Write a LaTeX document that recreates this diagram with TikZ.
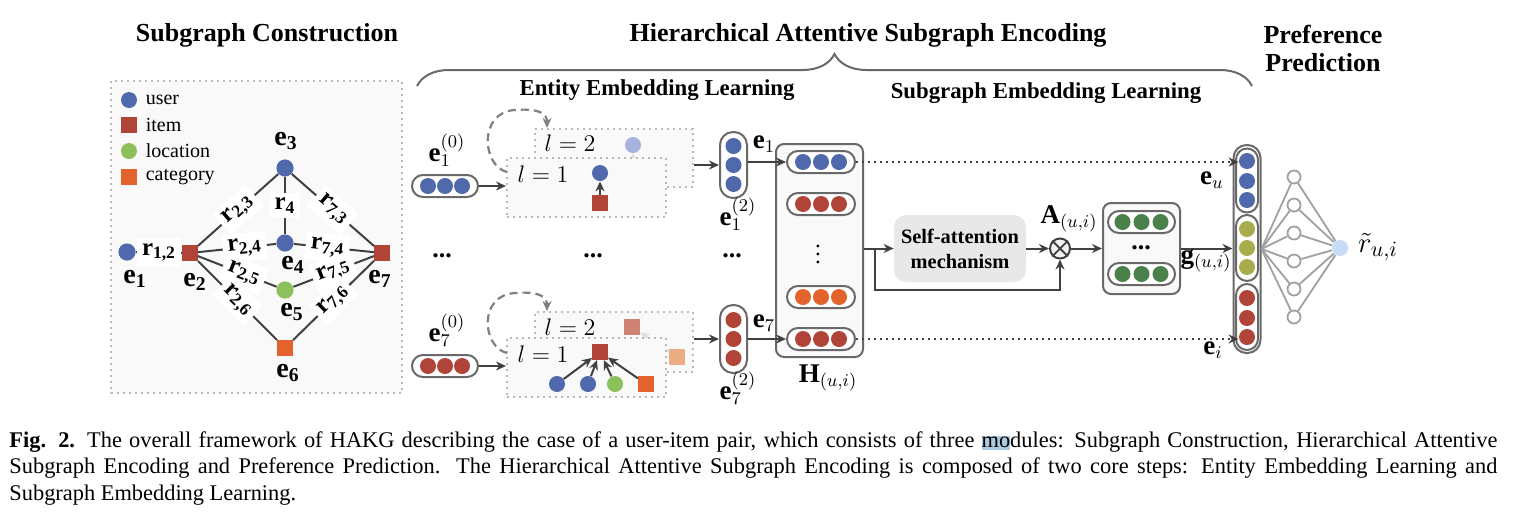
\documentclass[tikz,border=0pt]{standalone}
\usepackage{fontspec}
\setmainfont{Liberation Serif}
\usetikzlibrary{calc,positioning,arrows.meta,decorations.pathreplacing}

\definecolor{cUser}{RGB}{80,104,172}
\definecolor{cItem}{RGB}{176,68,56}
\definecolor{cLoc}{RGB}{140,192,90}
\definecolor{cCat}{RGB}{226,100,44}
\definecolor{cOlive}{RGB}{168,172,76}
\definecolor{cGreen}{RGB}{74,128,74}
\definecolor{cEdge}{RGB}{64,64,64}
\definecolor{cPill}{RGB}{105,105,105}
\definecolor{cNet}{RGB}{160,160,160}
\definecolor{cPaleU}{RGB}{168,178,222}
\definecolor{cPaleI}{RGB}{205,130,115}
\definecolor{cPaleC}{RGB}{236,172,132}
\definecolor{cOut}{RGB}{200,220,246}
\definecolor{cBox}{RGB}{249,249,249}
\definecolor{cSA}{RGB}{232,232,232}
\definecolor{cMark}{RGB}{172,202,226}

\tikzset{
  >={Stealth[length=5pt,width=4.5pt]},
  dot/.style={circle, inner sep=0pt, minimum size=8pt},
  sq/.style={rectangle, inner sep=0pt, minimum size=7.6pt},
  usr/.style={dot, fill=cUser},
  itm/.style={sq, fill=cItem},
  loc/.style={dot, fill=cLoc},
  cat/.style={sq, fill=cCat},
  link/.style={draw=cEdge, line width=1pt},
  flow/.style={->, draw=cEdge, line width=1pt},
  rel/.style={fill=white, inner sep=2.5pt, font=\fontsize{12.5}{12.5}\selectfont\bfseries},
  elab/.style={inner sep=0pt, font=\fontsize{14}{14}\selectfont\bfseries},
  mlab/.style={inner sep=0pt, font=\fontsize{13.5}{13.5}\selectfont},
  lvl/.style={inner sep=0pt, font=\fontsize{11.5}{11.5}\selectfont},
  dots/.style={inner sep=0pt, font=\fontsize{13}{13}\selectfont\bfseries},
  leg/.style={inner sep=0pt, font=\fontsize{10}{10}\selectfont},
  ttl/.style={font=\fontsize{13}{14}\selectfont\bfseries, align=center},
  subttl/.style={font=\fontsize{11.4}{12}\selectfont\bfseries},
  lbox/.style={draw=gray!55, dotted, line width=1pt, fill=cBox},
  pillh/.style={draw=cPill, line width=1pt, rounded corners=5.5pt, fill=white, minimum width=33pt, minimum height=11pt, inner sep=0pt},
  pillv/.style={draw=cPill, line width=1pt, rounded corners=6.5pt, fill=white, minimum width=13.5pt, inner sep=0pt},
  panel/.style={draw=cPill, line width=1pt, rounded corners=4pt, fill=cBox, inner sep=0pt},
  hid/.style={circle, draw=cNet, line width=0.9pt, fill=white, minimum size=6.5pt, inner sep=0pt},
  selfloop/.style={->, draw=gray, line width=1.1pt, dash pattern=on 4pt off 2.5pt},
  captxt/.style={anchor=base west, inner sep=0pt, font=\fontsize{11.2}{13}\selectfont}
}

\begin{document}
\begin{tikzpicture}[x=0.5pt,y=-0.5pt]
\useasboundingbox (0,0) rectangle (1519,526);

    % Titles and brace
    \node[ttl] (tSC) at (267,35) {Subgraph Construction};
    \node[ttl] (tHA) at (868,35) {Hierarchical Attentive Subgraph Encoding};
    \node[ttl] (tPP) at (1323,48) {Preference\\Prediction};
    \node[subttl] (tEE) at (657,90) {Entity Embedding Learning};
    \node[subttl] (tSE) at (1046,93) {Subgraph Embedding Learning};
    \draw[cPill, line width=1pt, decorate, decoration={brace, amplitude=16pt}] (417,86) -- (1252,86);

    % Subgraph construction panel
    \filldraw[lbox] (111,81) rectangle (402,393);
    \node[usr] (lgU) at (129,100) {};
    \node[itm] (lgI) at (129,125) {};
    \node[loc] (lgL) at (129,151) {};
    \node[cat] (lgC) at (129,177) {};
    \node[leg, right=4pt of lgU] {user};
    \node[leg, right=4.2pt of lgI] {item};
    \node[leg, right=4pt of lgL] {location};
    \node[leg, right=4.2pt of lgC] {category};

    % Entities of the subgraph
    \node[usr, minimum size=8.6pt] (e1) at (127,252) {};
    \node[itm] (e2) at (190,253) {};
    \node[usr, minimum size=8.6pt] (e3) at (285,168) {};
    \node[usr, minimum size=8.6pt] (e4) at (285,243) {};
    \node[loc, minimum size=8.6pt] (e5) at (285,290) {};
    \node[cat] (e6) at (285,348) {};
    \node[itm] (e7) at (382,253) {};

    % Relations with labels on white patches
    \draw[link] (e1) -- node[rel] {r\textsubscript{1,2}} (e2);
    \draw[link] (e2) -- node[rel, sloped] {r\textsubscript{2,3}} (e3);
    \draw[link] (e3) -- node[rel] {r\textsubscript{4}} (e4);
    \draw[link] (e3) -- node[rel, sloped] {r\textsubscript{7,3}} (e7);
    \draw[link] (e2) -- node[rel, sloped, pos=0.6] {r\textsubscript{2,4}} (e4);
    \draw[link] (e4) -- node[rel, sloped, pos=0.42] {r\textsubscript{7,4}} (e7);
    \draw[link] (e2) -- node[rel, sloped, pos=0.58] {r\textsubscript{2,5}} (e5);
    \draw[link] (e5) -- node[rel, sloped] {r\textsubscript{7,5}} (e7);
    \draw[link] (e2) -- node[rel, sloped] {r\textsubscript{2,6}} (e6);
    \draw[link] (e6) -- node[rel, sloped] {r\textsubscript{7,6}} (e7);

    % Entity names
    \node[elab] at (135,279) {e\textsubscript{1}};
    \node[elab] at (195,282) {e\textsubscript{2}};
    \node[elab] at (286,141) {e\textsubscript{3}};
    \node[elab] at (293,265) {e\textsubscript{4}};
    \node[elab] at (292,312) {e\textsubscript{5}};
    \node[elab] at (288,373) {e\textsubscript{6}};
    \node[elab] at (380,279) {e\textsubscript{7}};

    % Entity embedding learning, user e1
    \node[pillh] (p1) at (445,186) {};
    \foreach \dx in {-17,0,17} \node[usr] at ($(p1)+(\dx,0)$) {};
    \node[mlab] at (447,150) {$\mathbf{e}_1^{(0)}$};
    \node[lbox, minimum width=79pt, minimum height=29pt] (l2a) at (614,158) {};
    \node[lvl] at (570,143) {$l=2$};
    \node[dot, fill=cPaleU] (qa) at (633,145) {};
    \draw[->, draw=gray!30, line width=1pt] (633,172) -- (qa);
    \node[lbox, minimum width=79.5pt, minimum height=29.5pt] (l1a) at (586.5,187.5) {};
    \node[lvl] at (543,174) {$l=1$};
    \node[usr] (ua) at (600,173) {};
    \node[itm] (ia) at (600,203) {};
    \draw[flow] (ia) -- (ua);
    \draw[selfloop] (507,172) .. controls (482,166) and (478,112) .. (515,110) .. controls (540,108) and (547,114) .. (547,128);
    \draw[flow] (p1.east) -- (p1.east -| l1a.west);

    % Entity embedding learning, item e7
    \node[pillh] (p7) at (445,366) {};
    \foreach \dx in {-17,0,17} \node[itm, circle, minimum size=8pt] at ($(p7)+(\dx,0)$) {};
    \node[mlab] at (447,330) {$\mathbf{e}_7^{(0)}$};
    \node[lbox, minimum width=79pt, minimum height=30pt] (l2b) at (614,342) {};
    \node[lvl] at (570,327) {$l=2$};
    \node[sq, fill=cPaleI] (qb) at (632,327) {};
    \node[sq, fill=cPaleC] (qc) at (677,357) {};
    \draw[->, draw=gray!25, line width=1pt] (qc) -- (qb);
    \node[lbox, minimum width=79.5pt, minimum height=29.5pt] (l1b) at (586.5,367.5) {};
    \node[lvl] at (543,354) {$l=1$};
    \node[itm] (ib) at (600,352) {};
    \node[usr] (ub1) at (557,384) {};
    \node[usr] (ub2) at (588,384) {};
    \node[loc] (lb) at (615,384) {};
    \node[cat] (cb) at (646,384) {};
    \foreach \src in {ub1,ub2,lb,cb} \draw[flow] (\src) -- (ib);
    \draw[selfloop] (507,353) .. controls (482,347) and (478,295) .. (515,293) .. controls (540,291) and (547,297) .. (547,311);
    \draw[flow] (p7.east) -- (p7.east -| l1b.west);

    % Output entity vectors
    \node[pillv, minimum height=33pt] (v1) at (733.5,165) {};
    \foreach \dy in {-19,0,19} \node[usr] at ($(v1)+(0,\dy)$) {};
    \node[pillv, minimum height=34pt] (v7) at (733.5,339) {};
    \foreach \dy in {-19,0,19} \node[itm, circle, minimum size=8pt] at ($(v7)+(0,\dy)$) {};
    \draw[flow] (v1.west -| l2a.east) -- (v1.west);
    \draw[flow] (v7.west -| l2b.east) -- (v7.west);
    \node[mlab] at (764,144) {$\mathbf{e}_1$};
    \node[mlab] at (738,214) {$\mathbf{e}_1^{(2)}$};
    \node[mlab] at (764,323) {$\mathbf{e}_7$};
    \node[mlab] at (738,388) {$\mathbf{e}_7^{(2)}$};

    % Dots between the two rows
    \node[dots] at (442,256) {...};
    \node[dots] at (593,256) {...};
    \node[dots] at (732,256) {...};

    % Subgraph embedding learning
    \node[panel, minimum width=43.5pt, minimum height=106.5pt] (H) at (819.5,250.5) {};
    \node[pillh, minimum width=34pt] (h1) at (821,162) {};
    \node[pillh, minimum width=34pt] (h2) at (821,204) {};
    \node[pillh, minimum width=34pt] (h3) at (821,297) {};
    \node[pillh, minimum width=34pt] (h4) at (821,339) {};
    \foreach \dx in {-18,0,18} {
      \node[usr] at ($(h1)+(\dx,0)$) {};
      \node[itm, circle, minimum size=8pt] at ($(h2)+(\dx,0)$) {};
      \node[cat, circle, minimum size=8pt] at ($(h3)+(\dx,0)$) {};
      \node[itm, circle, minimum size=8pt] at ($(h4)+(\dx,0)$) {};
    }
    \node[lvl] at (818,248) {$\vdots$};
    \node[mlab] at (828,378) {$\mathbf{H}_{(u,i)}$};
    \draw[flow] (v1.east |- h1.west) -- (h1.west);
    \draw[flow] (v7.east |- h4.west) -- (h4.west);

    \node[fill=cSA, rounded corners=6pt, minimum width=66pt, minimum height=33.5pt, align=center, inner sep=0pt,
          font=\fontsize{10.2}{12.5}\selectfont\bfseries] (SA) at (960,248.5) {Self-attention\\mechanism};
    \node[circle, draw=cEdge, line width=1pt, fill=gray!10, minimum size=10pt, inner sep=0pt] (ot) at (1060,248.5) {};
    \draw[cEdge, line width=0.9pt] (ot.north west) -- (ot.south east) (ot.north east) -- (ot.south west);
    \node[mlab] at (1069,219) {$\mathbf{A}_{(u,i)}$};
    \coordinate (br) at (875,248.5);
    \coordinate (bd) at (875,290);
    \draw[flow] (H.east |- SA.west) -- (SA.west);
    \draw[flow] (br) -- (bd) -- (bd -| ot.south) -- (ot.south);
    \draw[flow] (SA.east) -- (ot.west);

    \node[panel, minimum width=38.5pt, minimum height=45.5pt] (G) at (1141.5,248.5) {};
    \node[pillh, minimum width=33.5pt] (g1) at (1141.5,222) {};
    \node[pillh, minimum width=33.5pt] (g2) at (1141.5,274) {};
    \foreach \dx in {-19,0,19} {
      \node[dot, fill=cGreen] at ($(g1)+(\dx,0)$) {};
      \node[dot, fill=cGreen] at ($(g2)+(\dx,0)$) {};
    }
    \node[dots] at (1141,248) {...};
    \draw[flow] (ot.east) -- (G.west);

    % Preference prediction
    \node[pillv, minimum height=104pt] (pv) at (1247,249) {};
    \node[pillv, minimum width=11pt, minimum height=32pt, rounded corners=5.5pt] (pb) at (1247,180.5) {};
    \node[pillv, minimum width=11pt, minimum height=33pt, rounded corners=5.5pt] (po) at (1247,248) {};
    \node[pillv, minimum width=11pt, minimum height=33pt, rounded corners=5.5pt] (pr) at (1247,317) {};
    \node[usr] (pu1) at (1247,161) {};
    \node[usr] at (1247,181) {};
    \node[usr] at (1247,200) {};
    \node[dot, fill=cOlive] at (1247,229) {};
    \node[dot, fill=cOlive] at (1247,248) {};
    \node[dot, fill=cOlive] at (1247,267) {};
    \node[itm, circle, minimum size=8pt] at (1247,298) {};
    \node[itm, circle, minimum size=8pt] at (1247,318) {};
    \node[itm, circle, minimum size=8pt] (pi3) at (1247,337) {};
    \draw[flow, dotted] (h1.east) -- (h1.east -| pu1.west);
    \draw[flow, dotted] (h4.east) -- (h4.east -| pi3.west);
    \draw[flow] (G.east) -- (G.east -| pv.west);
    \node[mlab] at (1212,180) {$\mathbf{e}_u$};
    \node[mlab] at (1213,350) {$\mathbf{e}_i$};
    \node[mlab] at (1206,261) {$\mathbf{g}_{(u,i)}$};

    % Prediction layer
    \node[dot, fill=cOut] (out) at (1340,248) {};
    \foreach \k/\y in {1/177,2/205,3/233,4/261,5/289,6/317} {
      \node[hid] (hn\k) at (1294,\y) {};
      \draw[cNet, line width=0.9pt] (pv.east) -- (hn\k);
      \draw[cNet, line width=0.9pt] (hn\k) -- (out);
    }
    \node[font=\fontsize{15}{15}\selectfont] at (1378,247) {$\tilde{r}_{u,i}$};

    % Caption
    \fill[cMark] (982,436) rectangle (1010,450);
    \node[captxt] at (9,447) {\makebox[744pt][s]{\textbf{Fig. 2.} The overall framework of HAKG describing the case of a user-item pair, which consists of three modules: Subgraph Construction, Hierarchical Attentive}};
    \node[captxt] at (9,473) {\makebox[744pt][s]{Subgraph Encoding and Preference Prediction. The Hierarchical Attentive Subgraph Encoding is composed of two core steps: Entity Embedding Learning and}};
    \node[captxt] at (9,500) {Subgraph Embedding Learning.};

\end{tikzpicture}
\end{document}
